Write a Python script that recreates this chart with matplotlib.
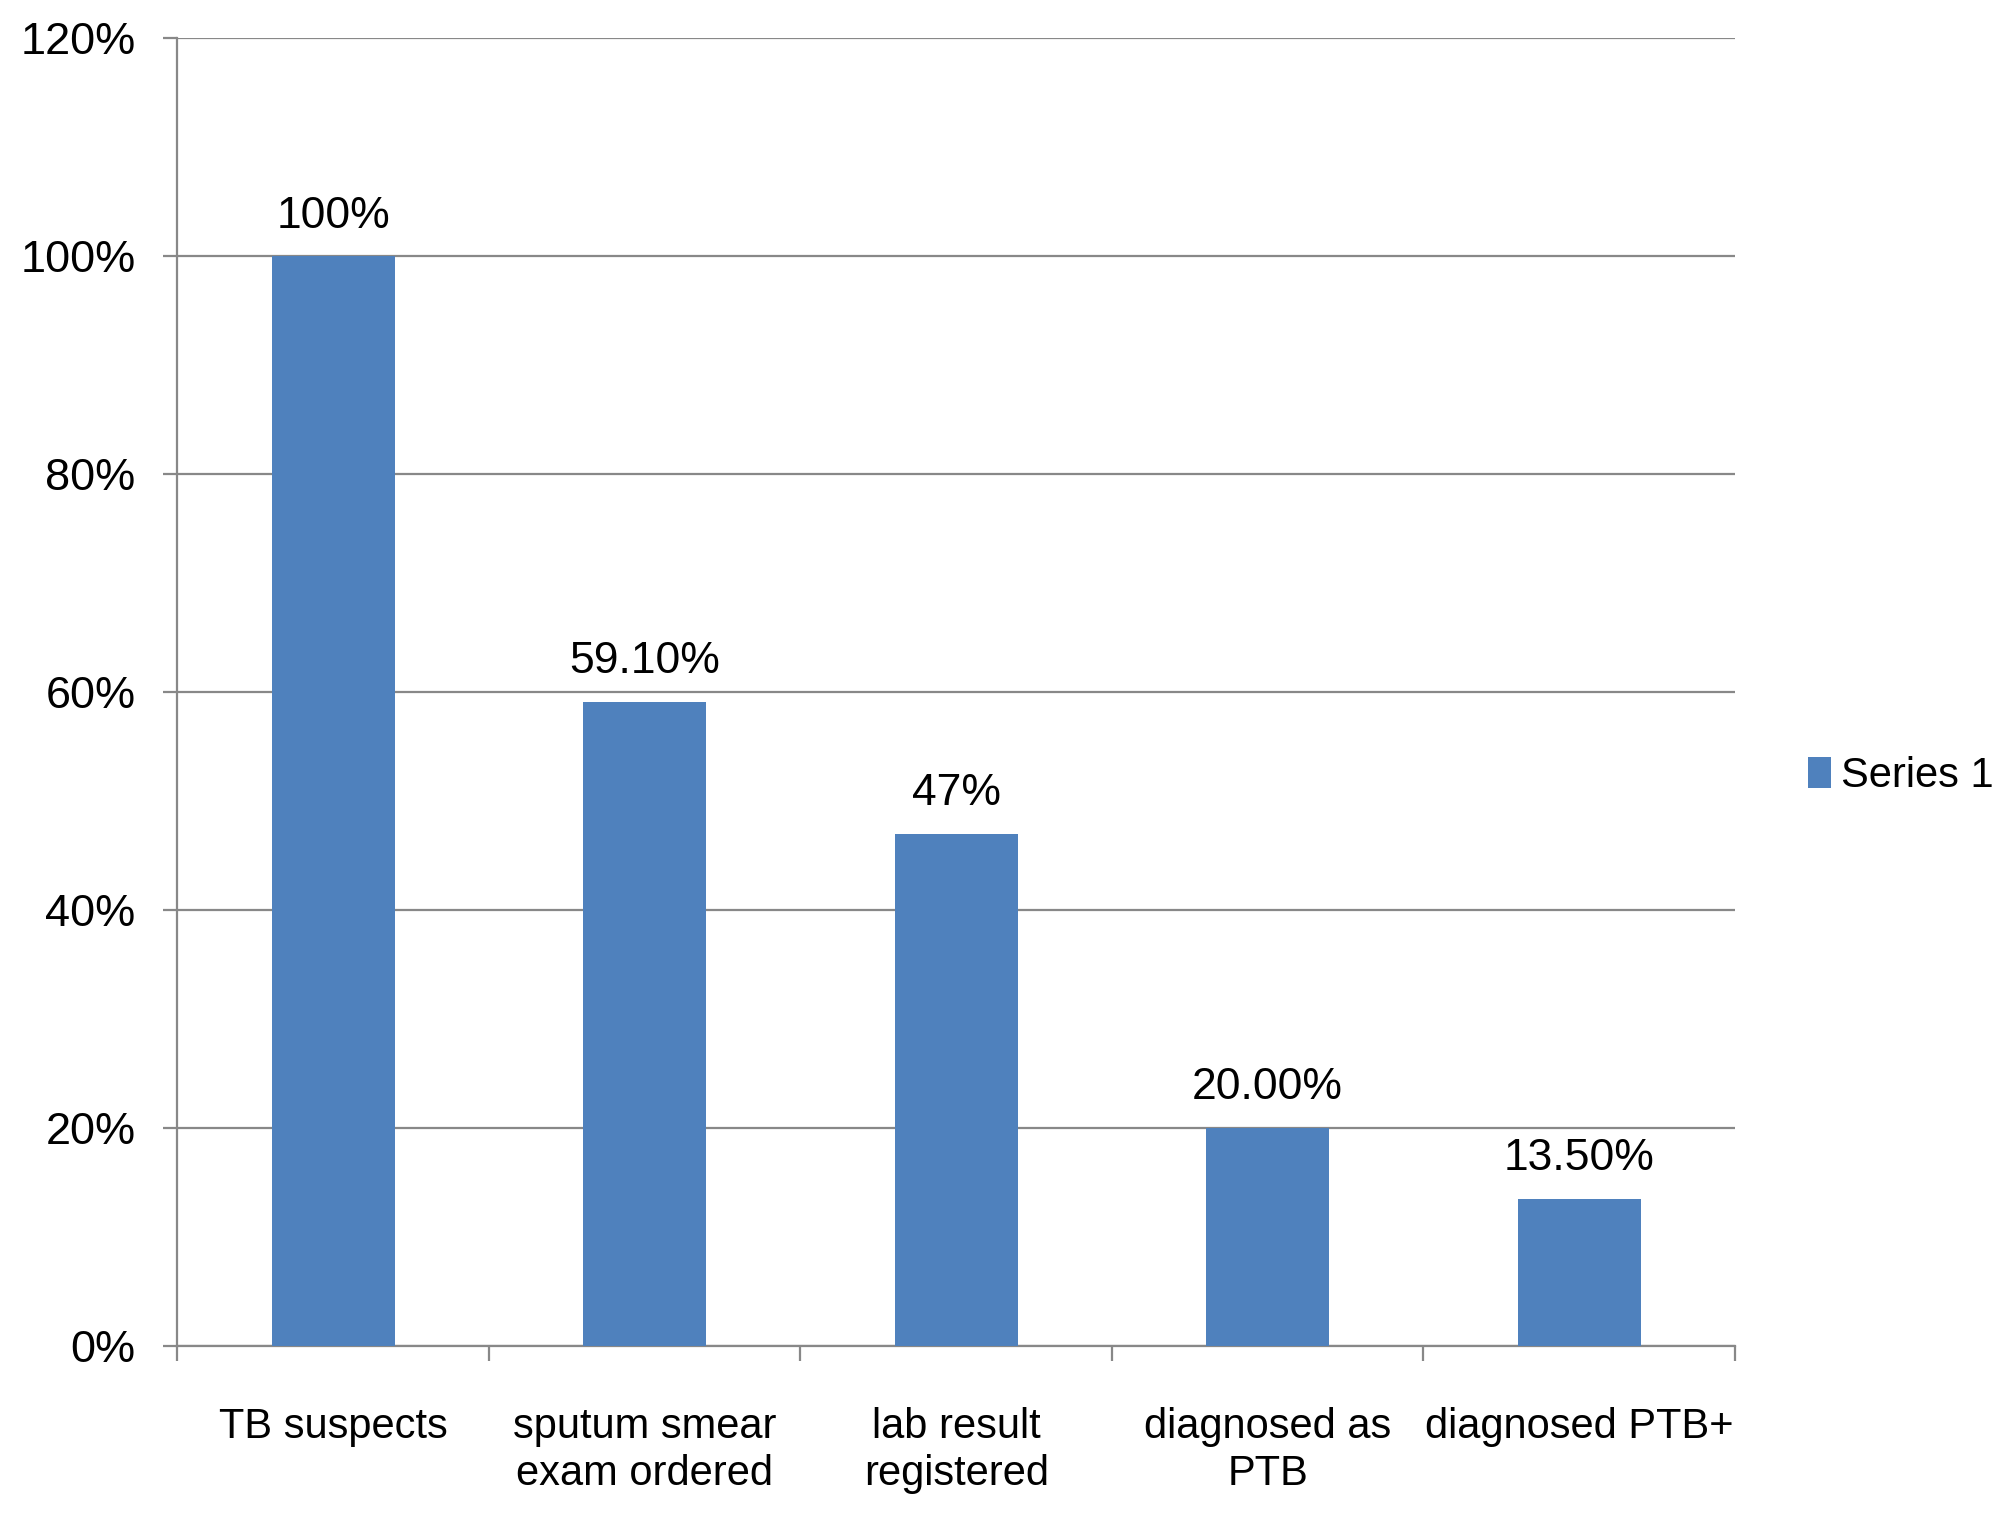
import matplotlib
matplotlib.use("Agg")
import matplotlib.pyplot as plt
import numpy as np

categories = ["TB suspects", "sputum smear\nexam ordered", "lab result\nregistered",
              "diagnosed as\nPTB", "diagnosed PTB+"]
values = [100, 59.1, 47, 20.0, 13.5]
value_labels = ["100%", "59.10%", "47%", "20.00%", "13.50%"]
yticks = [0, 20, 40, 60, 80, 100, 120]
ytick_labels = ["0%", "20%", "40%", "60%", "80%", "100%", "120%"]
series_name = "Series 1"

plt.rcParams['font.family'] = ['Liberation Sans', 'DejaVu Sans']

fig = plt.figure(figsize=(20, 15.19), dpi=100)
ax = fig.add_axes([0.0887, 0.114, 0.7788, 0.861])

grid_color = "#888888"
bar_color = "#4F81BD"
x = np.arange(len(categories))
bars = ax.bar(x, values, width=0.395, color=bar_color, zorder=3, label=series_name)

ax.set_xlim(-0.5, len(categories) - 0.5)
ax.set_ylim(0, 120)
ax.set_yticks(yticks)
ax.set_yticklabels(ytick_labels, fontsize=32.5)
ax.yaxis.grid(True, color=grid_color, linewidth=1.6, zorder=0)
ax.tick_params(axis='y', length=10, width=1.6, color=grid_color, pad=20)

# category boundary ticks
ax.set_xticks(np.arange(len(categories) + 1) - 0.5)
ax.set_xticklabels([])
ax.tick_params(axis='x', length=11, width=1.6, color=grid_color)
for xi, lab in zip(x, categories):
    ax.annotate(lab, xy=(xi, 0), xycoords=('data', 'axes fraction'),
                xytext=(0, -44), textcoords='offset points',
                ha='center', va='top', fontsize=30, linespacing=1.24)

for s in ['top', 'right']:
    ax.spines[s].set_visible(False)
for s in ['left', 'bottom']:
    ax.spines[s].set_color(grid_color)
    ax.spines[s].set_linewidth(1.6)

for xi, v, lab in zip(x, values, value_labels):
    ax.annotate(lab, xy=(xi, v), xytext=(0, 14), textcoords='offset points',
                ha='center', va='bottom', fontsize=32)

leg = fig.legend(handles=[bars], labels=[series_name], loc='center left',
                 bbox_to_anchor=(0.904, 0.489), frameon=False, fontsize=30,
                 handlelength=0.55, handleheight=0.75, handletextpad=0.25,
                 borderaxespad=0, borderpad=0)

fig.savefig("out.png", dpi=100)
